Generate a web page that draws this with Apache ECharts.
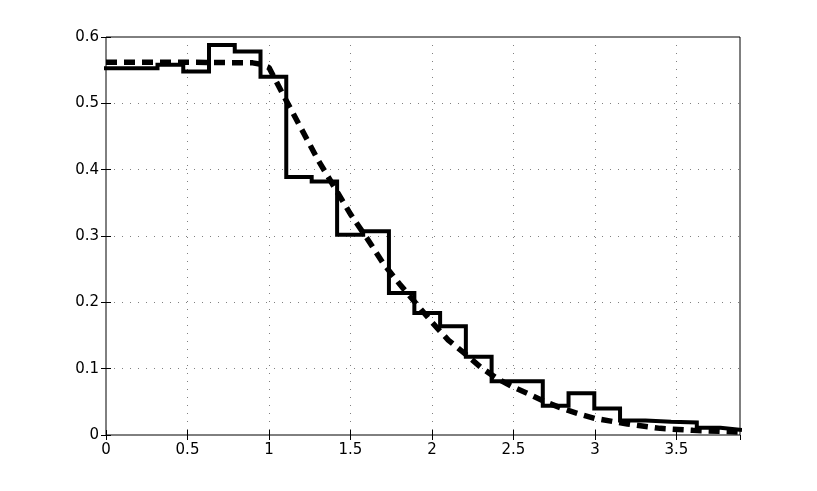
<!DOCTYPE html>
<html>
<head>
<meta charset="utf-8">
<script src="https://cdn.jsdelivr.net/npm/echarts@6/dist/echarts.min.js"></script>
<style>
  html, body { margin: 0; padding: 0; background: #fff; }
  #chart { width: 817px; height: 491px; }
</style>
</head>
<body>
<div id="chart"></div>
<script>
// histogram-like step line: left edge of each bin and its value
const binEdges = [0, 0.316, 0.474, 0.632, 0.790, 0.948, 1.106, 1.262, 1.418, 1.578, 1.736, 1.892, 2.050, 2.208, 2.366, 2.680, 2.838, 2.996, 3.154, 3.310, 3.467, 3.625, 3.770];
const binValues = [0.553, 0.558, 0.548, 0.588, 0.578, 0.540, 0.389, 0.382, 0.302, 0.307, 0.214, 0.184, 0.164, 0.118, 0.081, 0.044, 0.063, 0.040, 0.022, 0.020, 0.019, 0.011, 0.008];
const xEnd = 3.89;

// smooth dashed curve
const curveX = [0, 0.5, 0.9, 0.95, 1.0, 1.1, 1.2, 1.3, 1.4, 1.5, 1.6, 1.7, 1.8, 1.9, 2.0, 2.1, 2.2, 2.3, 2.4, 2.5, 2.6, 2.7, 2.8, 2.9, 3.0, 3.2, 3.4, 3.6, 3.89];
const curveY = [0.562, 0.562, 0.561, 0.559, 0.554, 0.507, 0.461, 0.415, 0.374, 0.333, 0.297, 0.259, 0.228, 0.199, 0.170, 0.143, 0.123, 0.102, 0.085, 0.072, 0.061, 0.0495, 0.040, 0.032, 0.025, 0.0165, 0.010, 0.007, 0.0045];

const xTicks = [0, 0.5, 1, 1.5, 2, 2.5, 3, 3.5];
const yTicks = [0, 0.1, 0.2, 0.3, 0.4, 0.5, 0.6];

const chart = echarts.init(document.getElementById('chart'), null, { renderer: 'canvas' });

const stepData = binEdges.map((x, i) => [x, binValues[i]]);
stepData.push([xEnd, binValues[binValues.length - 1]]);
const curveData = curveX.map((x, i) => [x, curveY[i]]);

const labelFont = { color: '#000', fontFamily: 'DejaVu Sans, sans-serif', fontSize: 15 };
const gridDots = { show: true, lineStyle: { color: '#808080', width: 1, type: [1, 7] } };

function xAxisOf(pos, labels) {
  return {
    type: 'value', position: pos, min: 0, max: xEnd, interval: 0.5,
    axisLine: { show: false },
    axisTick: { show: true, inside: true, length: 5, lineStyle: { color: '#000' } },
    axisLabel: Object.assign({ show: labels, margin: 8, showMaxLabel: false,
      formatter: v => (xTicks.includes(+v.toFixed(2)) ? String(+v.toFixed(2)) : '') }, labelFont),
    splitLine: labels ? gridDots : { show: false },
  };
}
function yAxisOf(pos, labels) {
  return {
    type: 'value', position: pos, min: 0, max: 0.6, interval: 0.1,
    axisLine: { show: false },
    axisTick: { show: true, inside: true, length: 5, lineStyle: { color: '#000' } },
    axisLabel: Object.assign({ show: labels, margin: 7,
      formatter: v => (yTicks.includes(+v.toFixed(2)) ? String(+v.toFixed(2)) : '') }, labelFont),
    splitLine: labels ? gridDots : { show: false },
  };
}

chart.setOption({
  animation: false,
  backgroundColor: '#fff',
  grid: { left: 106, right: 77, top: 37, bottom: 56, show: true, borderColor: '#000', borderWidth: 1 },
  xAxis: [xAxisOf('bottom', true), xAxisOf('top', false)],
  yAxis: [yAxisOf('left', true), yAxisOf('right', false)],
  series: [
    {
      type: 'line',
      step: 'end',
      data: stepData,
      showSymbol: false,
      lineStyle: { color: '#000', width: 4, cap: 'square', join: 'miter' },
    },
    {
      type: 'line',
      data: curveData,
      showSymbol: false,
      lineStyle: { color: '#000', width: 5.5, type: [11, 7], cap: 'butt' },
    },
  ],
});
</script>
</body>
</html>
